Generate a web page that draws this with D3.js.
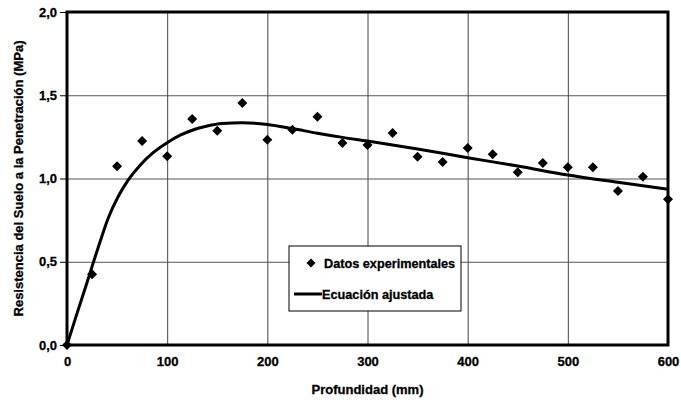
<!DOCTYPE html>
<html>
<head>
<meta charset="utf-8">
<script src="https://cdn.jsdelivr.net/npm/d3@7"></script>
<style>
  body { margin: 0; background: #fff; }
  svg { display: block; }
  text { font-family: "Liberation Sans", Arial, sans-serif; font-weight: bold; fill: #000; stroke: #000; stroke-width: 0.3px; }
</style>
</head>
<body>
<svg id="chart" width="681" height="405"></svg>
<script>
// Experimental data
const depthData = [0, 25, 50, 75, 100, 125, 150, 175, 200, 225, 250, 275, 300, 325, 350, 375, 400, 425, 450, 475, 500, 525, 550, 575, 600];
const resistData = [0.0, 0.425, 1.073, 1.225, 1.133, 1.357, 1.287, 1.453, 1.233, 1.293, 1.371, 1.213, 1.201, 1.273, 1.131, 1.099, 1.183, 1.145, 1.037, 1.093, 1.067, 1.067, 0.925, 1.011, 0.875];

// Fitted curve
const curveX = [0, 10, 20, 26, 33, 41, 51, 61, 73, 86, 100, 113, 125, 140, 155, 175, 200, 225, 250, 275, 300, 350, 400, 450, 500, 550, 600];
const curveY = [0, 0.19, 0.375, 0.49, 0.62, 0.76, 0.89, 0.99, 1.08, 1.155, 1.215, 1.26, 1.29, 1.315, 1.33, 1.335, 1.325, 1.3, 1.272, 1.247, 1.225, 1.177, 1.125, 1.075, 1.021, 0.977, 0.935];

const xTicks = [0, 100, 200, 300, 400, 500, 600];
const yTicks = [0, 0.5, 1.0, 1.5, 2.0];

const legendLabels = ["Datos experimentales", "Ecuación ajustada"];
const xTitle = "Profundidad (mm)";
const yTitle = "Resistencia del Suelo a la Penetración (MPa)";

const svg = d3.select("#chart");
const L = 67, R = 668, T = 12, B = 345;
const FONT = "Liberation Sans, Arial, sans-serif";

const x = d3.scaleLinear().domain([0, 600]).range([L, R]);
const y = d3.scaleLinear().domain([0, 2]).range([B, T]);
const fmt = d => d3.format(".1f")(d).replace(".", ",");

// gridlines
svg.append("g")
  .attr("transform", `translate(0,${B})`)
  .call(d3.axisBottom(x).tickValues(xTicks.slice(1, -1)).tickSize(-(B - T)).tickFormat(""))
  .call(g => g.select(".domain").remove())
  .call(g => g.selectAll("line").attr("stroke", "#444").attr("stroke-width", 1));
svg.append("g")
  .attr("transform", `translate(${L},0)`)
  .call(d3.axisLeft(y).tickValues(yTicks.slice(1, -1)).tickSize(-(R - L)).tickFormat(""))
  .call(g => g.select(".domain").remove())
  .call(g => g.selectAll("line").attr("stroke", "#555").attr("stroke-width", 1));

// y axis ticks + labels
svg.append("g")
  .attr("transform", `translate(${L},0)`)
  .call(d3.axisLeft(y).tickValues(yTicks).tickSize(7).tickPadding(3).tickFormat(fmt))
  .call(g => g.select(".domain").remove())
  .call(g => g.selectAll("line").attr("stroke", "#000").attr("stroke-width", 1))
  .call(g => g.selectAll("text").style("font-size", "13px").style("font-family", FONT).style("font-weight", "bold"));

// x axis labels
svg.append("g")
  .attr("transform", `translate(0,${B})`)
  .call(d3.axisBottom(x).tickValues(xTicks).tickSize(0).tickPadding(12).tickFormat(d3.format("d")))
  .call(g => g.select(".domain").remove())
  .call(g => g.selectAll("text").style("font-size", "13px").style("font-family", FONT).style("font-weight", "bold"));

// frame
svg.append("rect")
  .attr("x", L).attr("y", T).attr("width", R - L).attr("height", B - T)
  .attr("fill", "none").attr("stroke", "#000").attr("stroke-width", 3);

// fitted curve
const line = d3.line().x((d, i) => x(curveX[i])).y(d => y(d)).curve(d3.curveMonotoneX);
svg.append("path")
  .attr("d", line(curveY))
  .attr("fill", "none").attr("stroke", "#000").attr("stroke-width", 3);

// points
const diamond = (cx, cy, r) => `M${cx},${cy - r}L${cx + r},${cy}L${cx},${cy + r}L${cx - r},${cy}Z`;
svg.append("g").selectAll("path")
  .data(depthData)
  .join("path")
  .attr("d", (d, i) => diamond(x(d), y(resistData[i]), 5))
  .attr("fill", "#000");

// titles
svg.append("text")
  .attr("x", (L + R) / 2).attr("y", 394)
  .attr("text-anchor", "middle").style("font-size", "13px")
  .text(xTitle);
svg.append("text")
  .attr("transform", `translate(23,${(T + B) / 2}) rotate(-90)`)
  .attr("text-anchor", "middle").style("font-size", "13px")
  .text(yTitle);

// legend
const lg = svg.append("g");
lg.append("rect")
  .attr("x", 289).attr("y", 246).attr("width", 172).attr("height", 65)
  .attr("fill", "#fff").attr("stroke", "#000").attr("stroke-width", 1);
lg.append("path").attr("d", diamond(311, 263, 4.5)).attr("fill", "#000");
lg.append("text").attr("x", 324).attr("y", 267.5).style("font-size", "12.7px").text(legendLabels[0]);
lg.append("line").attr("x1", 294).attr("x2", 322).attr("y1", 294).attr("y2", 294)
  .attr("stroke", "#000").attr("stroke-width", 3);
lg.append("text").attr("x", 322).attr("y", 298.5).style("font-size", "12.7px").text(legendLabels[1]);
</script>
</body>
</html>
